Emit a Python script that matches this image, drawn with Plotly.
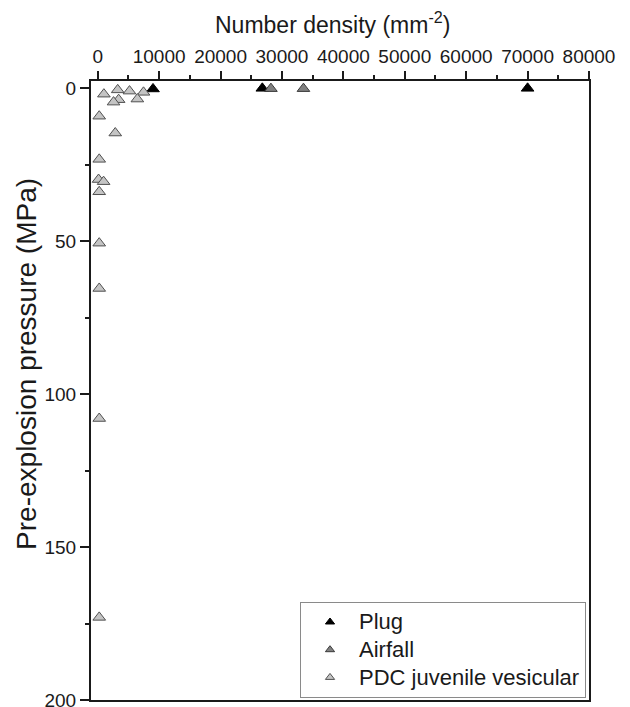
import plotly.graph_objects as go

# Data
plug_density = [9000, 26800, 70000]
plug_pressure = [0.3, 0.1, 0.1]

airfall_density = [28200, 33500]
airfall_pressure = [0.2, 0.2]

pdc_density = [1000, 3250, 5170, 7450, 3400, 2570, 6450, 240, 2850, 240, 130, 950, 240, 240, 240, 240, 240]
pdc_pressure = [2.0, 0.6, 1.0, 1.4, 3.8, 4.6, 3.6, 9.2, 14.7, 23.3, 29.9, 30.6, 33.9, 50.7, 65.5, 108.0, 173.0]

series_names = ["Plug", "Airfall", "PDC juvenile vesicular"]

x_ticks = [0, 10000, 20000, 30000, 40000, 50000, 60000, 70000, 80000]
y_ticks = [0, 50, 100, 150, 200]

x_title = "Number density (mm<sup>-2</sup>)"
y_title = "Pre-explosion pressure (MPa)"

FONT = "Liberation Sans, Arial, sans-serif"
TXT = "#1a1a1a"

styles = [
    dict(color="#000000", line=dict(color="#000000", width=1)),
    dict(color="#808080", line=dict(color="#3a3a3a", width=1)),
    dict(color="#c4c4c4", line=dict(color="#505050", width=1)),
]
data = [(plug_density, plug_pressure), (airfall_density, airfall_pressure), (pdc_density, pdc_pressure)]

fig = go.Figure()
for (xs, ys), name, st in zip(data, series_names, styles):
    fig.add_trace(go.Scatter(
        x=xs, y=ys, mode="markers", name=name, legendgroup=name, showlegend=False,
        marker=dict(symbol="triangle-up", size=11, **st),
    ))
# legend entries (smaller symbols, as in the reference legend)
for name, st in zip(series_names, styles):
    fig.add_trace(go.Scatter(
        x=[None], y=[None], mode="markers", legendgroup=name, showlegend=True,
        name='<span style="font-size:22px">' + name + '</span>',
        marker=dict(symbol="triangle-up", size=8, **st),
    ))

fig.update_layout(
    width=622, height=699,
    margin=dict(l=83, r=41, t=73, b=7, autoexpand=False),
    paper_bgcolor="white", plot_bgcolor="white",
    font=dict(family=FONT, color=TXT, size=19),
    showlegend=True,
    legend=dict(
        x=0.994, xanchor="right", y=0.003, yanchor="bottom",
        bgcolor="white", bordercolor="#8a8a8a", borderwidth=1,
        font=dict(family=FONT, size=19, color=TXT),
        itemsizing="trace", itemwidth=48, tracegroupgap=0,
    ),
    xaxis=dict(
        side="top", range=[-1100, 80000], automargin=False,
        tickvals=x_ticks, ticktext=[str(v) for v in x_ticks],
        ticks="outside", ticklen=8, tickwidth=1.5, tickcolor="#1a1a1a",
        minor=dict(dtick=5000, tick0=0, ticks="outside", ticklen=4, tickwidth=1.5, tickcolor="#1a1a1a"),
        showline=True, linecolor="#1a1a1a", linewidth=2, mirror=True,
        showgrid=False, zeroline=False, ticklabeloverflow="allow",
        tickfont=dict(size=19),
    ),
    yaxis=dict(
        range=[200, -2.3], automargin=False,
        tickvals=y_ticks, ticktext=[str(v) for v in y_ticks],
        ticks="outside", ticklen=9, tickwidth=1.5, tickcolor="#1a1a1a",
        minor=dict(dtick=25, tick0=0, ticks="outside", ticklen=4, tickwidth=1.5, tickcolor="#1a1a1a"),
        showline=True, linecolor="#1a1a1a", linewidth=2, mirror=True,
        showgrid=False, zeroline=False, ticklabeloverflow="allow",
        tickfont=dict(size=19),
    ),
    annotations=[
        dict(text=x_title, xref="paper", yref="paper", x=0.485, y=1.0937,
             xanchor="center", yanchor="middle", showarrow=False,
             font=dict(size=23, color=TXT, family=FONT)),
        dict(text=y_title, xref="paper", yref="paper", x=-0.1285, y=0.543,
             xanchor="center", yanchor="middle", showarrow=False, textangle=-90,
             font=dict(size=28, color=TXT, family=FONT)),
    ],
)

fig.write_html("out.html")
